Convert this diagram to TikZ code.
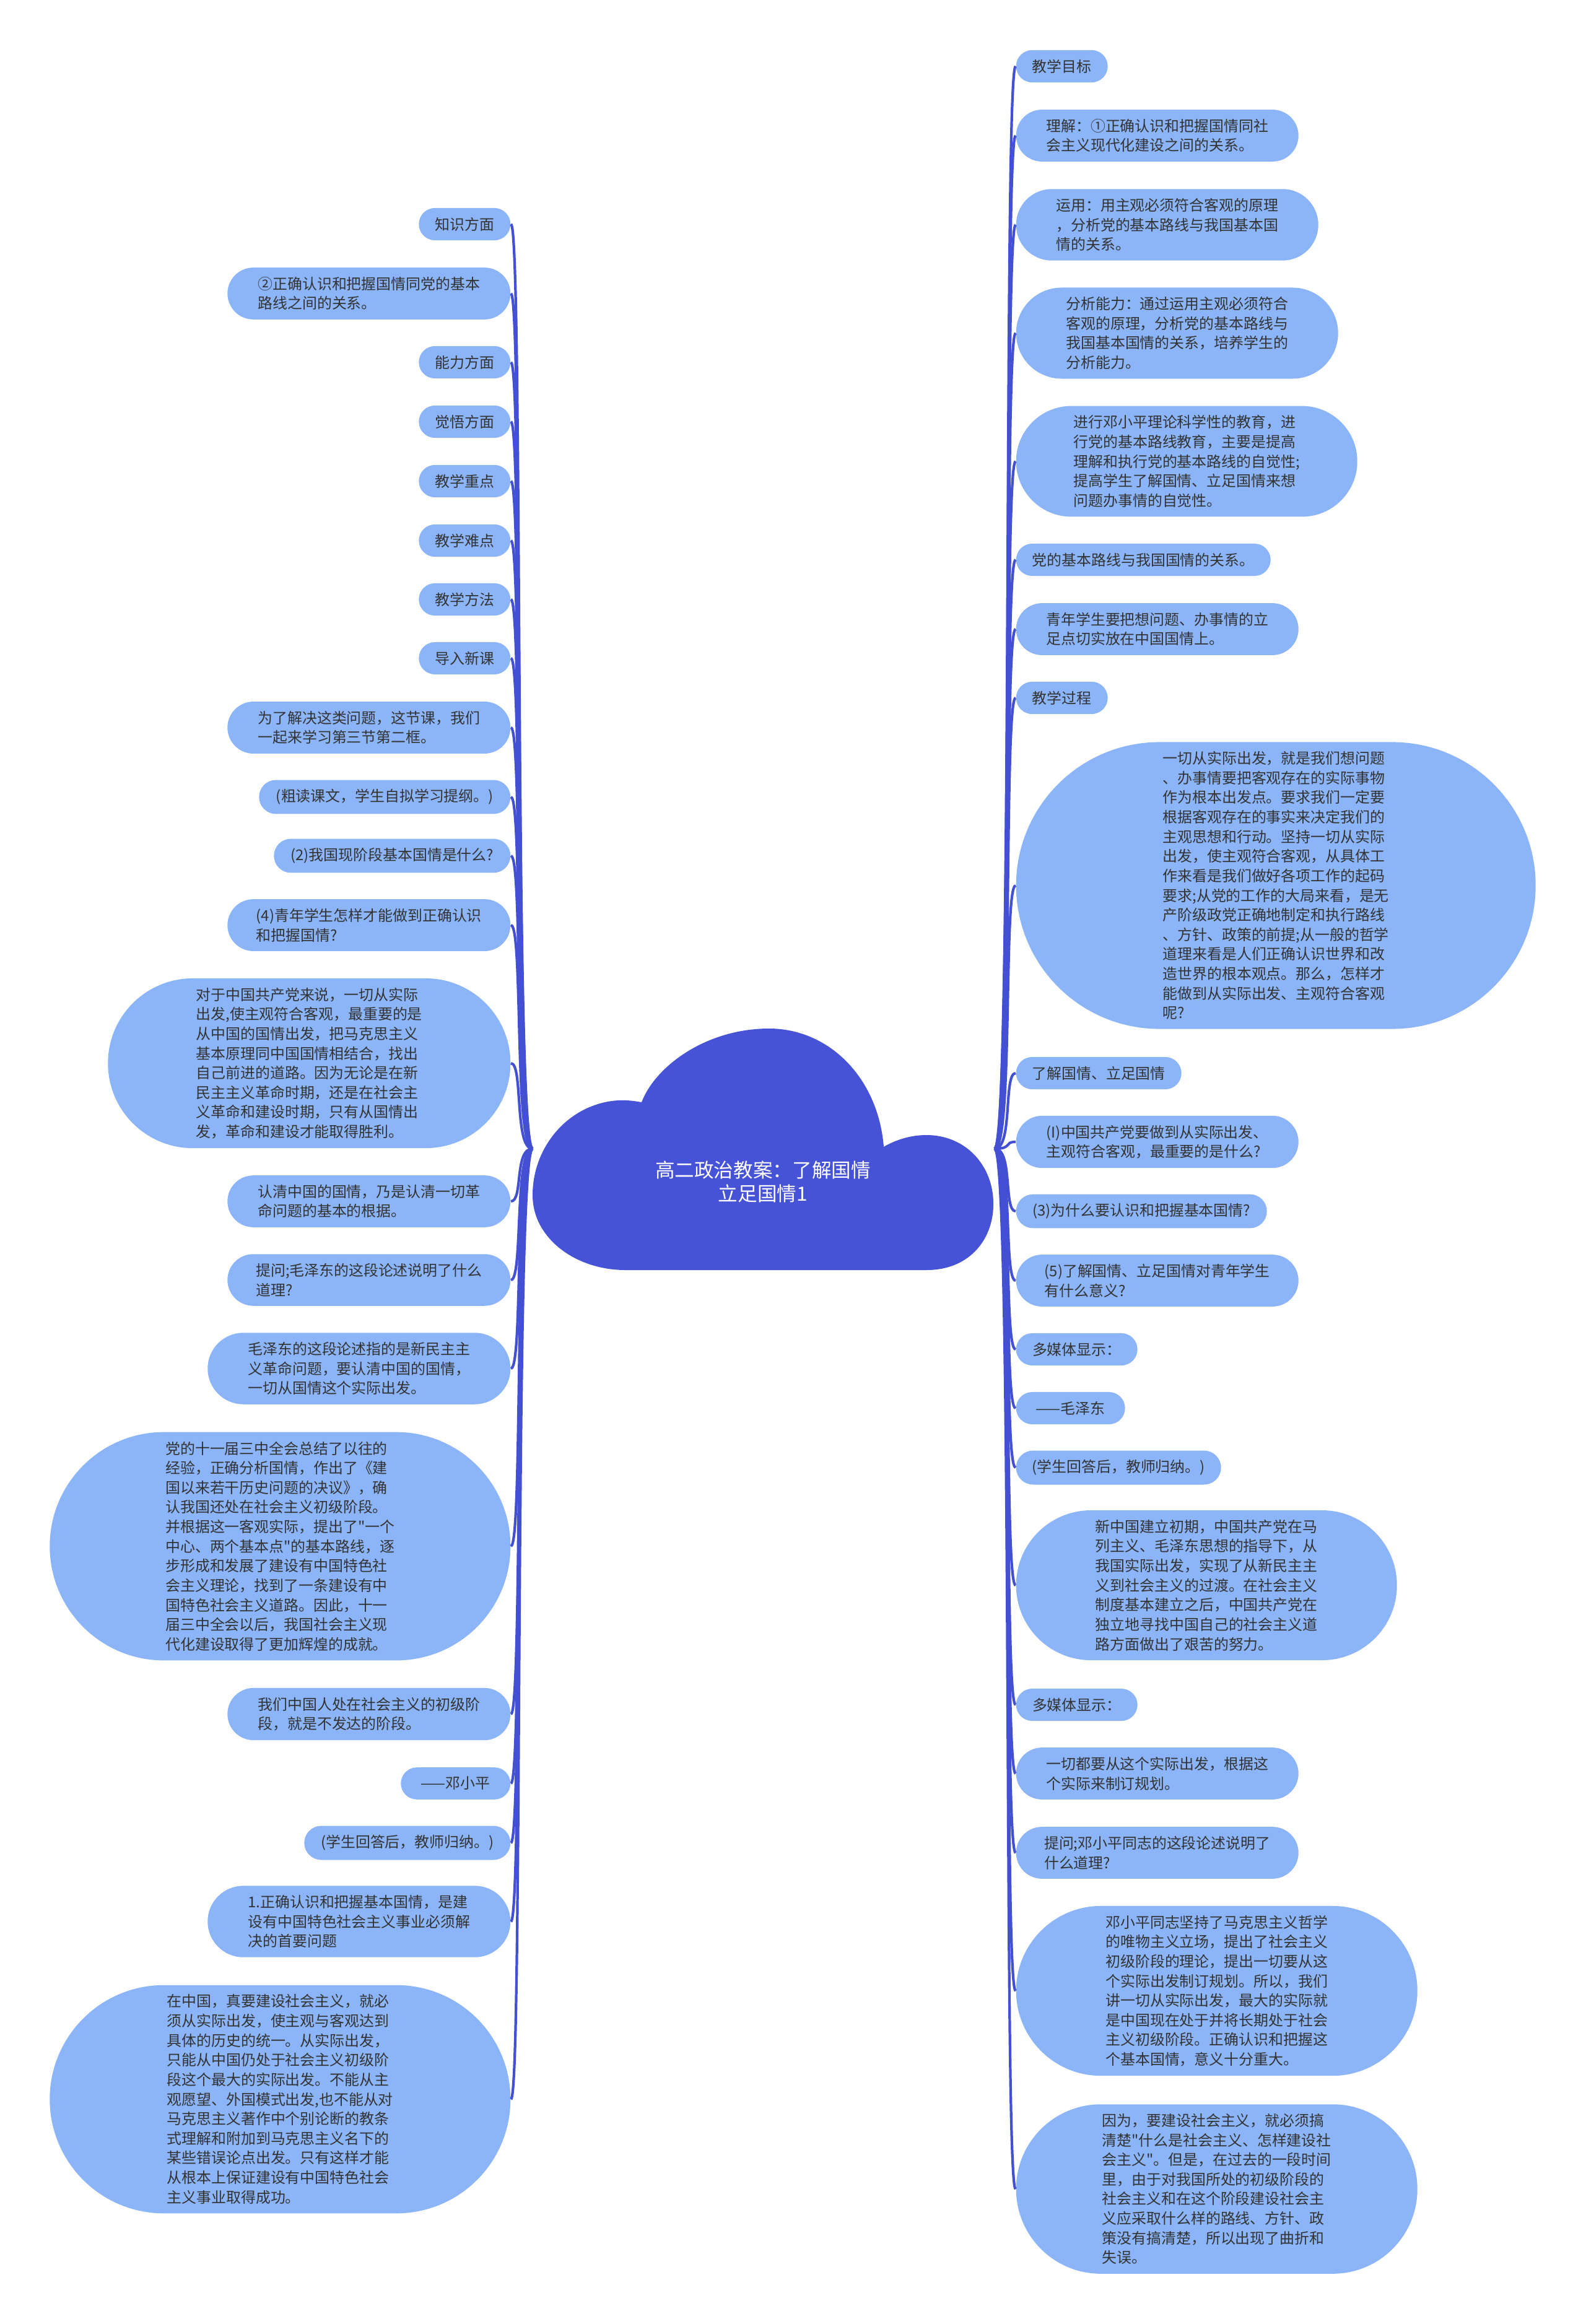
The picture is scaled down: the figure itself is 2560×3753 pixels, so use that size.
\documentclass[tikz,border=0pt]{standalone}
\usepackage{fontspec}
\usepackage{tikz}
\usetikzlibrary{shapes.misc}
\newfontfamily\cjk{Noto Sans CJK SC}
\definecolor{leafblue}{HTML}{8BB5F8}
\definecolor{cloudblue}{HTML}{4653D6}
\definecolor{linkblue}{HTML}{4350D4}
\definecolor{textgray}{HTML}{333333}

\begin{document}
\begin{tikzpicture}[x=0.1mm, y=-0.1mm,
	leaf/.style={rounded rectangle, fill=leafblue, text=textgray, align=left, inner xsep=0pt, inner ysep=1.5mm, font=\cjk\fontsize{6.8pt}{9pt}\selectfont},
	lleaf/.style={leaf, anchor=east},
	rleaf/.style={leaf, anchor=west},
	boxw/.style={minimum width=#1*0.1mm},
	link/.style={draw=linkblue, line width=1.2pt}]
	\useasboundingbox (0,0) rectangle (2560,3753);
	\fill[cloudblue] (1010,2051) -- (1496,2051) .. controls (1568,2051) and (1606,1998) .. (1604,1940)
		.. controls (1602,1880) and (1558,1833) .. (1496,1833) .. controls (1468,1833) and (1444,1842) .. (1427,1852)
		.. controls (1418,1740) and (1338,1661) .. (1242,1661) .. controls (1140,1661) and (1058,1722) .. (1036,1780)
		.. controls (1025,1778) and (1010,1776) .. (998,1777) .. controls (920,1782) and (860,1850) .. (860,1930)
		.. controls (860,2000) and (930,2051) .. (1010,2051) -- cycle;
	\node[text=white, align=center, font=\cjk\fontsize{9pt}{10.8pt}\selectfont] (root) at (1232,1908) {高二政治教案：了解国情\\立足国情1};
	\coordinate (rootl) at (860,1855);
	\coordinate (rootr) at (1606,1855);

	\node[lleaf, boxw=148] (L1) at (825,362) {知识方面};
	\node[lleaf, boxw=457] (L2) at (825,474) {②正确认识和把握国情同党的基本\\路线之间的关系。};
	\node[lleaf, boxw=148] (L3) at (825,585) {能力方面};
	\node[lleaf, boxw=148] (L4) at (825,681) {觉悟方面};
	\node[lleaf, boxw=148] (L5) at (825,777) {教学重点};
	\node[lleaf, boxw=148] (L6) at (825,873) {教学难点};
	\node[lleaf, boxw=148] (L7) at (825,968) {教学方法};
	\node[lleaf, boxw=148] (L8) at (825,1063) {导入新课};
	\node[lleaf, boxw=457] (L9) at (825,1175) {为了解决这类问题，这节课，我们\\一起来学习第三节第二框。};
	\node[lleaf, boxw=406] (L10) at (825,1287) {(粗读课文，学生自拟学习提纲。)};
	\node[lleaf, boxw=382] (L11) at (825,1382) {(2)我国现阶段基本国情是什么?};
	\node[lleaf, boxw=457] (L12) at (825,1494) {(4)青年学生怎样才能做到正确认识\\和把握国情?};
	\node[lleaf, boxw=650] (L13) at (825,1717) {对于中国共产党来说，一切从实际\\出发,使主观符合客观，最重要的是\\从中国的国情出发，把马克思主义\\基本原理同中国国情相结合，找出\\自己前进的道路。因为无论是在新\\民主主义革命时期，还是在社会主\\义革命和建设时期，只有从国情出\\发，革命和建设才能取得胜利。};
	\node[lleaf, boxw=457] (L14) at (825,1940) {认清中国的国情，乃是认清一切革\\命问题的基本的根据。};
	\node[lleaf, boxw=457] (L15) at (825,2067) {提问;毛泽东的这段论述说明了什么\\道理?};
	\node[lleaf, boxw=489] (L16) at (825,2210) {毛泽东的这段论述指的是新民主主\\义革命问题，要认清中国的国情，\\一切从国情这个实际出发。};
	\node[lleaf, boxw=744] (L17) at (825,2497) {党的十一届三中全会总结了以往的\\经验，正确分析国情，作出了《建\\国以来若干历史问题的决议》，确\\认我国还处在社会主义初级阶段。\\并根据这一客观实际，提出了"一个\\中心、两个基本点"的基本路线，逐\\步形成和发展了建设有中国特色社\\会主义理论，找到了一条建设有中\\国特色社会主义道路。因此，十一\\届三中全会以后，我国社会主义现\\代化建设取得了更加辉煌的成就。};
	\node[lleaf, boxw=457] (L18) at (825,2768) {我们中国人处在社会主义的初级阶\\段，就是不发达的阶段。};
	\node[lleaf, boxw=177] (L19) at (825,2880) {——邓小平};
	\node[lleaf, boxw=333] (L20) at (825,2976) {(学生回答后，教师归纳。)};
	\node[lleaf, boxw=489] (L21) at (825,3103) {1.正确认识和把握基本国情，是建\\设有中国特色社会主义事业必须解\\决的首要问题};
	\node[lleaf, boxw=744] (L22) at (825,3390) {在中国，真要建设社会主义，就必\\须从实际出发，使主观与客观达到\\具体的历史的统一。从实际出发，\\只能从中国仍处于社会主义初级阶\\段这个最大的实际出发。不能从主\\观愿望、外国模式出发,也不能从对\\马克思主义著作中个别论断的教条\\式理解和附加到马克思主义名下的\\某些错误论点出发。只有这样才能\\从根本上保证建设有中国特色社会\\主义事业取得成功。};

	\node[rleaf, boxw=148] (R1) at (1640,107) {教学目标};
	\node[rleaf, boxw=456] (R2) at (1640,219) {理解：①正确认识和把握国情同社\\会主义现代化建设之间的关系。};
	\node[rleaf, boxw=488] (R3) at (1640,363) {运用：用主观必须符合客观的原理\\，分析党的基本路线与我国基本国\\情的关系。};
	\node[rleaf, boxw=520] (R4) at (1640,538) {分析能力：通过运用主观必须符合\\客观的原理，分析党的基本路线与\\我国基本国情的关系，培养学生的\\分析能力。};
	\node[rleaf, boxw=551] (R5) at (1640,745) {进行邓小平理论科学性的教育，进\\行党的基本路线教育，主要是提高\\理解和执行党的基本路线的自觉性;\\提高学生了解国情、立足国情来想\\问题办事情的自觉性。};
	\node[rleaf, boxw=411] (R6) at (1640,904) {党的基本路线与我国国情的关系。};
	\node[rleaf, boxw=456] (R7) at (1640,1016) {青年学生要把想问题、办事情的立\\足点切实放在中国国情上。};
	\node[rleaf, boxw=148] (R8) at (1640,1127) {教学过程};
	\node[rleaf, boxw=839] (R9) at (1640,1430) {一切从实际出发，就是我们想问题\\、办事情要把客观存在的实际事物\\作为根本出发点。要求我们一定要\\根据客观存在的事实来决定我们的\\主观思想和行动。坚持一切从实际\\出发，使主观符合客观，从具体工\\作来看是我们做好各项工作的起码\\要求;从党的工作的大局来看，是无\\产阶级政党正确地制定和执行路线\\、方针、政策的前提;从一般的哲学\\道理来看是人们正确认识世界和改\\造世界的根本观点。那么，怎样才\\能做到从实际出发、主观符合客观\\呢?};
	\node[rleaf, boxw=267] (R10) at (1640,1733) {了解国情、立足国情};
	\node[rleaf, boxw=456] (R11) at (1640,1844) {(I)中国共产党要做到从实际出发、\\主观符合客观，最重要的是什么?};
	\node[rleaf, boxw=405] (R12) at (1640,1956) {(3)为什么要认识和把握基本国情?};
	\node[rleaf, boxw=456] (R13) at (1640,2068) {(5)了解国情、立足国情对青年学生\\有什么意义?};
	\node[rleaf, boxw=196] (R14) at (1640,2179) {多媒体显示：};
	\node[rleaf, boxw=176] (R15) at (1640,2274) {——毛泽东};
	\node[rleaf, boxw=331] (R16) at (1640,2370) {(学生回答后，教师归纳。)};
	\node[rleaf, boxw=615] (R17) at (1640,2560) {新中国建立初期，中国共产党在马\\列主义、毛泽东思想的指导下，从\\我国实际出发，实现了从新民主主\\义到社会主义的过渡。在社会主义\\制度基本建立之后，中国共产党在\\独立地寻找中国自己的社会主义道\\路方面做出了艰苦的努力。};
	\node[rleaf, boxw=196] (R18) at (1640,2753) {多媒体显示：};
	\node[rleaf, boxw=456] (R19) at (1640,2864) {一切都要从这个实际出发，根据这\\个实际来制订规划。};
	\node[rleaf, boxw=456] (R20) at (1640,2992) {提问;邓小平同志的这段论述说明了\\什么道理?};
	\node[rleaf, boxw=648] (R21) at (1640,3215) {邓小平同志坚持了马克思主义哲学\\的唯物主义立场，提出了社会主义\\初级阶段的理论，提出一切要从这\\个实际出发制订规划。所以，我们\\讲一切从实际出发，最大的实际就\\是中国现在处于并将长期处于社会\\主义初级阶段。正确认识和把握这\\个基本国情，意义十分重大。};
	\node[rleaf, boxw=648] (R22) at (1640,3535) {因为，要建设社会主义，就必须搞\\清楚"什么是社会主义、怎样建设社\\会主义"。但是，在过去的一段时间\\里，由于对我国所处的初级阶段的\\社会主义和在这个阶段建设社会主\\义应采取什么样的路线、方针、政\\策没有搞清楚，所以出现了曲折和\\失误。};

	\draw[link] (rootl) .. controls +(-30,0) and +(20,0) .. (L1.east);
	\draw[link] (rootl) .. controls +(-30,0) and +(20,0) .. (L2.east);
	\draw[link] (rootl) .. controls +(-30,0) and +(20,0) .. (L3.east);
	\draw[link] (rootl) .. controls +(-30,0) and +(20,0) .. (L4.east);
	\draw[link] (rootl) .. controls +(-30,0) and +(20,0) .. (L5.east);
	\draw[link] (rootl) .. controls +(-30,0) and +(20,0) .. (L6.east);
	\draw[link] (rootl) .. controls +(-30,0) and +(20,0) .. (L7.east);
	\draw[link] (rootl) .. controls +(-30,0) and +(20,0) .. (L8.east);
	\draw[link] (rootl) .. controls +(-30,0) and +(20,0) .. (L9.east);
	\draw[link] (rootl) .. controls +(-30,0) and +(20,0) .. (L10.east);
	\draw[link] (rootl) .. controls +(-30,0) and +(20,0) .. (L11.east);
	\draw[link] (rootl) .. controls +(-30,0) and +(20,0) .. (L12.east);
	\draw[link] (rootl) .. controls +(-30,0) and +(20,0) .. (L13.east);
	\draw[link] (rootl) .. controls +(-30,0) and +(20,0) .. (L14.east);
	\draw[link] (rootl) .. controls +(-30,0) and +(20,0) .. (L15.east);
	\draw[link] (rootl) .. controls +(-30,0) and +(20,0) .. (L16.east);
	\draw[link] (rootl) .. controls +(-30,0) and +(20,0) .. (L17.east);
	\draw[link] (rootl) .. controls +(-30,0) and +(20,0) .. (L18.east);
	\draw[link] (rootl) .. controls +(-30,0) and +(20,0) .. (L19.east);
	\draw[link] (rootl) .. controls +(-30,0) and +(20,0) .. (L20.east);
	\draw[link] (rootl) .. controls +(-30,0) and +(20,0) .. (L21.east);
	\draw[link] (rootl) .. controls +(-30,0) and +(20,0) .. (L22.east);

	\draw[link] (rootr) .. controls +(30,0) and +(-20,0) .. (R1.west);
	\draw[link] (rootr) .. controls +(30,0) and +(-20,0) .. (R2.west);
	\draw[link] (rootr) .. controls +(30,0) and +(-20,0) .. (R3.west);
	\draw[link] (rootr) .. controls +(30,0) and +(-20,0) .. (R4.west);
	\draw[link] (rootr) .. controls +(30,0) and +(-20,0) .. (R5.west);
	\draw[link] (rootr) .. controls +(30,0) and +(-20,0) .. (R6.west);
	\draw[link] (rootr) .. controls +(30,0) and +(-20,0) .. (R7.west);
	\draw[link] (rootr) .. controls +(30,0) and +(-20,0) .. (R8.west);
	\draw[link] (rootr) .. controls +(30,0) and +(-20,0) .. (R9.west);
	\draw[link] (rootr) .. controls +(30,0) and +(-20,0) .. (R10.west);
	\draw[link] (rootr) .. controls +(30,0) and +(-20,0) .. (R11.west);
	\draw[link] (rootr) .. controls +(30,0) and +(-20,0) .. (R12.west);
	\draw[link] (rootr) .. controls +(30,0) and +(-20,0) .. (R13.west);
	\draw[link] (rootr) .. controls +(30,0) and +(-20,0) .. (R14.west);
	\draw[link] (rootr) .. controls +(30,0) and +(-20,0) .. (R15.west);
	\draw[link] (rootr) .. controls +(30,0) and +(-20,0) .. (R16.west);
	\draw[link] (rootr) .. controls +(30,0) and +(-20,0) .. (R17.west);
	\draw[link] (rootr) .. controls +(30,0) and +(-20,0) .. (R18.west);
	\draw[link] (rootr) .. controls +(30,0) and +(-20,0) .. (R19.west);
	\draw[link] (rootr) .. controls +(30,0) and +(-20,0) .. (R20.west);
	\draw[link] (rootr) .. controls +(30,0) and +(-20,0) .. (R21.west);
	\draw[link] (rootr) .. controls +(30,0) and +(-20,0) .. (R22.west);
\end{tikzpicture}
\end{document}
